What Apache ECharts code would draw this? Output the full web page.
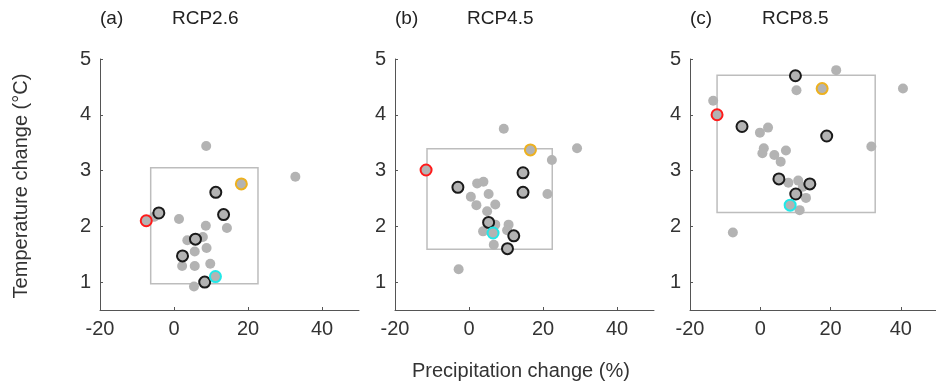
<!DOCTYPE html>
<html>
<head>
<meta charset="utf-8">
<script src="https://cdn.jsdelivr.net/npm/echarts@6/dist/echarts.min.js"></script>
<style>
  html, body { margin: 0; padding: 0; background: #fff; }
  #chart { width: 936px; height: 387px; }
</style>
</head>
<body>
<div id="chart"></div>
<script>
var panelLabels = ['(a)', '(b)', '(c)'];
var scenarios = ['RCP2.6', 'RCP4.5', 'RCP8.5'];
var xTicks = [-20, 0, 20, 40];
var yTicks = [1, 2, 3, 4, 5];

// [precip %, temp °C]
var grayA = [[8.7,3.44],[32.8,2.89],[1.35,2.13],[14.3,1.97],[8.6,2.01],[3.6,1.75],[7.8,1.81],[8.8,1.61],
  [5.6,1.55],[2.2,1.29],[5.6,1.29],[9.8,1.33],[5.4,0.92],[-5.4,2.17]];
var blackA = [[11.3,2.61],[-4.1,2.24],[13.4,2.21],[5.8,1.77],[2.3,1.47],[8.3,1.0]];
var redA = [[-7.5,2.10]];
var orangeA = [[18.2,2.76]];
var cyanA = [[11.2,1.10]];
var boxA = [-6.3, 22.7, 0.97, 3.05];

var grayB = [[9.4,3.75],[29.2,3.40],[22.4,3.19],[2.2,2.77],[3.9,2.80],[5.3,2.58],[21.2,2.58],[0.5,2.53],
  [2.0,2.38],[7.1,2.39],[4.9,2.27],[7.1,2.03],[10.7,2.03],[3.8,1.91],[10.3,1.93],[6.7,1.67],[-2.8,1.23]];
var blackB = [[14.6,2.96],[14.6,2.61],[-3.0,2.70],[5.3,2.07],[12.1,1.83],[10.4,1.60]];
var redB = [[-11.6,3.01]];
var orangeB = [[16.6,3.37]];
var cyanB = [[6.5,1.88]];
var boxB = [-11.35, 22.5, 1.59, 3.39];

var grayC = [[21.6,4.80],[10.3,4.44],[40.6,4.47],[-13.4,4.25],[-0.1,3.68],[2.2,3.77],[1.0,3.40],[0.6,3.31],
  [4.0,3.28],[7.3,3.36],[5.8,3.16],[31.6,3.43],[8.0,2.78],[10.8,2.82],[12.1,2.71],[13.0,2.51],[11.2,2.29],[-7.8,1.89]];
var blackC = [[10.0,4.70],[-5.2,3.79],[18.9,3.62],[5.3,2.85],[14.1,2.76],[10.1,2.58]];
var redC = [[-12.3,4.00]];
var orangeC = [[17.6,4.47]];
var cyanC = [[8.5,2.38]];
var boxC = [-12.3, 32.7, 2.25, 4.71];

var panels = [
  {gray: grayA, black: blackA, red: redA, orange: orangeA, cyan: cyanA, box: boxA},
  {gray: grayB, black: blackB, red: redB, orange: orangeB, cyan: cyanB, box: boxB},
  {gray: grayC, black: blackC, red: redC, orange: orangeC, cyan: cyanC, box: boxC}
];

var lefts = [100, 395, 690];
var font = 'Liberation Sans, Arial, sans-serif';
var axisColor = '#555';
var textColor = '#333';
var dotGray = '#b3b3b3';

var grids = [], xAxes = [], yAxes = [], series = [], titles = [];

panels.forEach(function (p, i) {
  grids.push({left: lefts[i], top: 59, width: 259, height: 251});
  xAxes.push({
    type: 'value', gridIndex: i, min: -20, max: 50,
    splitLine: {show: false},
    axisLine: {onZero: false, lineStyle: {color: axisColor, width: 1}},
    axisTick: {inside: true, length: 3, customValues: xTicks, lineStyle: {color: axisColor}},
    axisLabel: {customValues: xTicks, fontSize: 20, color: textColor, fontFamily: font, margin: 9}
  });
  yAxes.push({
    type: 'value', gridIndex: i, min: 0.5, max: 5,
    splitLine: {show: false},
    axisLine: {show: true, onZero: false, lineStyle: {color: axisColor, width: 1}},
    axisTick: {show: true, inside: true, length: 3, customValues: yTicks, lineStyle: {color: axisColor}},
    axisLabel: {customValues: yTicks, fontSize: 20, color: textColor, fontFamily: font, margin: 9}
  });
  titles.push({text: panelLabels[i], left: lefts[i], top: 9, padding: 0,
    textStyle: {fontSize: 19, fontWeight: 'normal', color: '#222', fontFamily: font}});
  titles.push({text: scenarios[i], left: lefts[i] + 72, top: 9, padding: 0,
    textStyle: {fontSize: 19, fontWeight: 'normal', color: '#222', fontFamily: font}});

  var b = p.box;
  series.push({
    type: 'scatter', xAxisIndex: i, yAxisIndex: i, data: p.gray, symbolSize: 10,
    itemStyle: {color: dotGray, opacity: 1}, z: 2,
    markArea: {
      silent: true,
      itemStyle: {color: 'rgba(0,0,0,0)', borderColor: '#bdbdbd', borderWidth: 1.5},
      data: [[{coord: [b[0], b[3]]}, {coord: [b[1], b[2]]}]]
    }
  });
  [['black', '#1a1a1a'], ['red', '#ff1a1a'], ['orange', '#edb120'], ['cyan', '#22e8e8']].forEach(function (r) {
    series.push({
      type: 'scatter', xAxisIndex: i, yAxisIndex: i, data: p[r[0]], symbolSize: 11,
      itemStyle: {color: dotGray, borderColor: r[1], borderWidth: 2, opacity: 1}, z: 3
    });
  });
});

var chart = echarts.init(document.getElementById('chart'), null, {renderer: 'canvas'});
chart.setOption({
  animation: false,
  backgroundColor: '#fff',
  title: titles,
  grid: grids,
  xAxis: xAxes,
  yAxis: yAxes,
  series: series,
  graphic: [
    {type: 'text', left: 412, top: 361,
      style: {text: 'Precipitation change (%)', fontSize: 20, fill: textColor, fontFamily: font}},
    {type: 'text', x: 21, y: 186, rotation: Math.PI / 2,
      style: {text: 'Temperature change (°C)', fontSize: 20, fill: textColor, fontFamily: font,
        align: 'center', verticalAlign: 'middle'}}
  ]
});
</script>
</body>
</html>
